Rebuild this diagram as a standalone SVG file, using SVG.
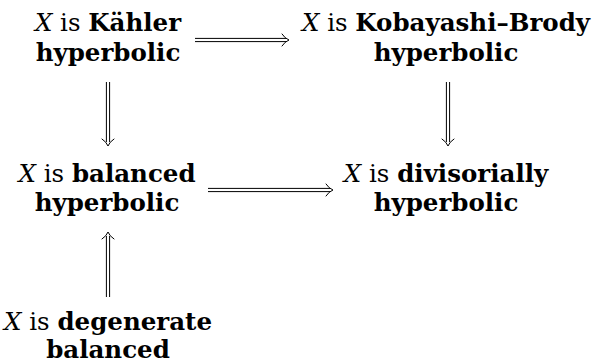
<svg xmlns="http://www.w3.org/2000/svg" width="593" height="364" viewBox="0 0 593 364">
<style>
text{font-family:"DejaVu Serif","Liberation Serif",serif;font-size:24.5px;fill:#000;text-anchor:middle}
.b{font-weight:bold}
.i{font-style:italic}
.ln{stroke:#000;stroke-width:1;fill:none}
.hd{stroke:#000;stroke-width:1;fill:none;stroke-linecap:round}
</style>
<rect width="593" height="364" fill="#fff"/>
<g id="connectors">
  <g id="e-kahler-kb">
    <path class="ln" d="M195 38.4H286M195 41.6H286"/>
    <path class="hd" d="M282 34Q285 38.5 289 40Q285 41.5 282 46"/>
  </g>
  <g id="e-kahler-balanced">
    <path class="ln" d="M106.4 82V142M109.6 82V142"/>
    <path class="hd" d="M102 139Q106.5 142 108 146Q109.5 142 114 139"/>
  </g>
  <g id="e-kb-div">
    <path class="ln" d="M446.4 82V142M449.6 82V142"/>
    <path class="hd" d="M442 139Q446.5 142 448 146Q449.5 142 454 139"/>
  </g>
  <g id="e-balanced-div">
    <path class="ln" d="M208 188.4H330M208 191.6H330"/>
    <path class="hd" d="M326 184Q329 188.5 333 190Q329 191.5 326 196"/>
  </g>
  <g id="e-degenerate-balanced">
    <path class="ln" d="M106.4 236V297M109.6 236V297"/>
    <path class="hd" d="M102 239Q106.5 236 108 232Q109.5 236 114 239"/>
  </g>
</g>
<g id="n-kahler">
  <text x="108" y="31"><tspan class="i">X</tspan> is <tspan class="b">Kähler</tspan></text>
  <text x="108" y="61" class="b">hyperbolic</text>
</g>
<g id="n-kb">
  <text x="446" y="31"><tspan class="i">X</tspan> is <tspan class="b">Kobayashi–Brody</tspan></text>
  <text x="446" y="61" class="b">hyperbolic</text>
</g>
<g id="n-balanced">
  <text x="107" y="182"><tspan class="i">X</tspan> is <tspan class="b">balanced</tspan></text>
  <text x="107" y="211" class="b">hyperbolic</text>
</g>
<g id="n-div">
  <text x="446" y="182"><tspan class="i">X</tspan> is <tspan class="b">divisorially</tspan></text>
  <text x="446" y="211" class="b">hyperbolic</text>
</g>
<g id="n-degenerate">
  <text x="108" y="330"><tspan class="i">X</tspan> is <tspan class="b">degenerate</tspan></text>
  <text x="108" y="358" class="b">balanced</text>
</g>
</svg>
